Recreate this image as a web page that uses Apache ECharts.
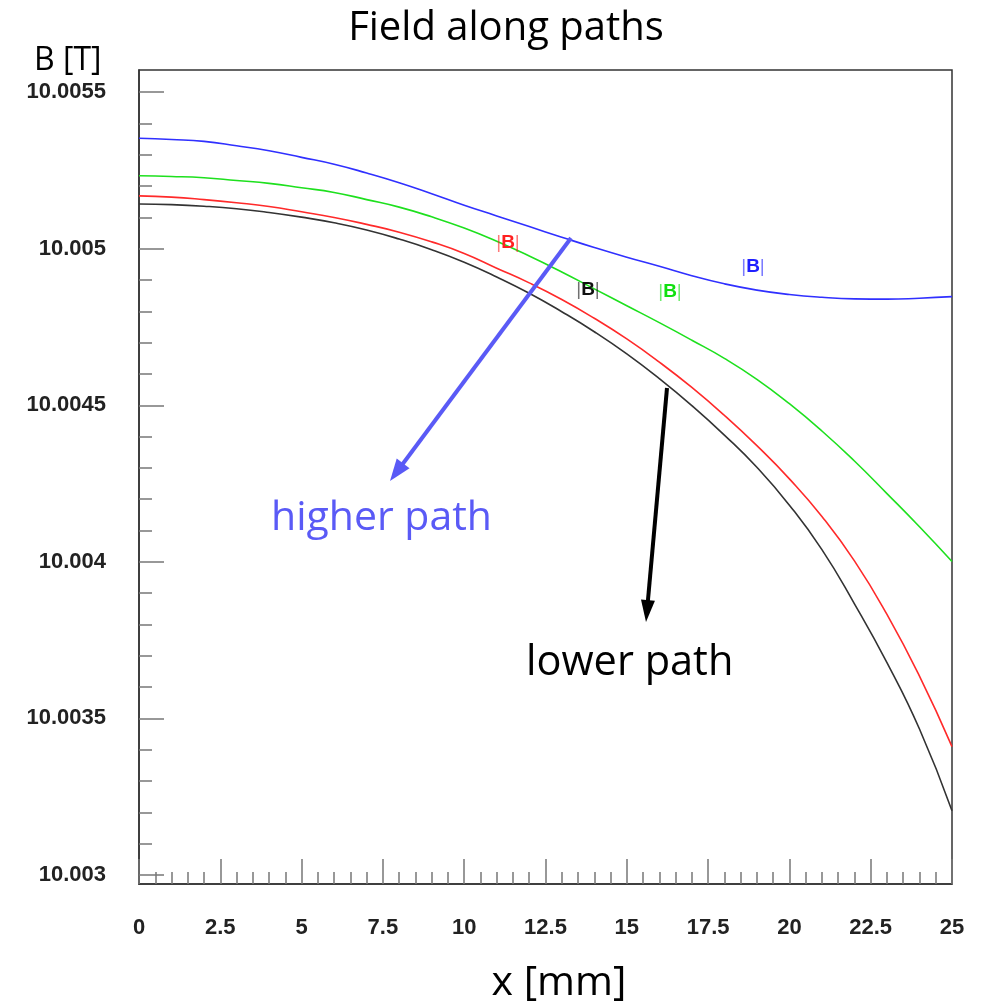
<!DOCTYPE html>
<html>
<head>
<meta charset="utf-8">
<script src="https://cdn.jsdelivr.net/npm/echarts@6/dist/echarts.min.js"></script>
<style>
html,body{margin:0;padding:0;background:#fff;}
#chart{width:981px;height:1005px;}
</style>
</head>
<body>
<div id="chart"></div>
<script>
// x positions along the path [mm]
const xPos = [0,1,2,3,4,5,6,7,8,9,10,11,12,13,14,15,16,17,18,19,20,21,22,23,24,25];
// |B| [T] along each path
const blueB  = [10.005353,10.005349,10.005343,10.005329,10.005313,10.005292,10.005270,10.005242,10.005211,10.005176,10.005139,10.005105,10.005071,10.005037,10.005004,10.004973,10.004944,10.004914,10.004888,10.004868,10.004854,10.004845,10.004840,10.004839,10.004842,10.004847];
const greenB = [10.005233,10.005231,10.005227,10.005218,10.005209,10.005195,10.005180,10.005157,10.005133,10.005102,10.005066,10.005024,10.004977,10.004926,10.004872,10.004818,10.004764,10.004708,10.004650,10.004583,10.004505,10.004418,10.004322,10.004218,10.004112,10.004001];
const redB   = [10.005169,10.005165,10.005157,10.005147,10.005135,10.005118,10.005100,10.005078,10.005053,10.005022,10.004985,10.004938,10.004891,10.004838,10.004778,10.004712,10.004638,10.004557,10.004468,10.004371,10.004265,10.004145,10.004003,10.003832,10.003635,10.003410];
const blackB = [10.005143,10.005141,10.005136,10.005128,10.005116,10.005101,10.005083,10.005060,10.005031,10.004997,10.004957,10.004910,10.004858,10.004799,10.004735,10.004664,10.004585,10.004499,10.004405,10.004302,10.004181,10.004039,10.003866,10.003678,10.003466,10.003205];
// axis ranges and tick values
const yMin = 10.002971, yMax = 10.005571;
const yMajorTicks = [10.003,10.0035,10.004,10.0045,10.005,10.0055];
const yMinorTicks = [10.0031,10.0032,10.0033,10.0034,10.0036,10.0037,10.0038,10.0039,10.0041,10.0042,10.0043,10.0044,10.0046,10.0047,10.0048,10.0049,10.0051,10.0052,10.0053,10.0054];
const xMin = 0, xMax = 25, xStep = 2.5;

const chart = echarts.init(document.getElementById('chart'), null, {renderer:'canvas'});

function pairs(vals){ return xPos.map((x,i)=>[x, vals[i]]); }
function arrow(x1,y1,x2,y2,color,w,hl,hw){
  const dx=x2-x1, dy=y2-y1, L=Math.hypot(dx,dy), ux=dx/L, uy=dy/L;
  const bx=x2-ux*hl, by=y2-uy*hl, px=-uy, py=ux;
  return [
    {type:'line', shape:{x1:x1,y1:y1,x2:bx+ux*2,y2:by+uy*2}, style:{stroke:color,lineWidth:w}, z:100},
    {type:'polygon', shape:{points:[[x2,y2],[bx+px*hw/2,by+py*hw/2],[bx-px*hw/2,by-py*hw/2]]}, style:{fill:color}, z:100}
  ];
}
const tickFont = {fontFamily:'Liberation Sans', fontWeight:'bold', fontSize:22, color:'#222'};
const lineStyleAxis = {color:'#333', width:1.5};
const tickStyle = {color:'#777', width:1.5};

function bLabel(x,y,color){
  return {type:'text', x:x, y:y, z:100, style:{
    text:'{a||}{b|B}{a||}', align:'center', verticalAlign:'middle',
    rich:{a:{fill:color,fontFamily:'Liberation Sans',fontSize:19,fontWeight:'normal',opacity:0.6},
          b:{fill:color,fontFamily:'Liberation Sans',fontSize:19,fontWeight:'bold'}}
  }};
}

const option = {
  animation:false,
  backgroundColor:'#fff',
  grid:{left:139, right:29, top:70, bottom:121, show:true, borderColor:'#333', borderWidth:1.5, containLabel:false},
  xAxis:{
    type:'value', min:xMin, max:xMax, interval:xStep,
    axisLine:{show:true, lineStyle:lineStyleAxis},
    axisTick:{show:true, inside:true, length:25, lineStyle:tickStyle},
    minorTick:{show:true, splitNumber:5, length:12, lineStyle:tickStyle},
    splitLine:{show:false}, minorSplitLine:{show:false},
    axisLabel:Object.assign({margin:33, formatter:v=>String(+v.toFixed(1))}, tickFont)
  },
  yAxis:[{
    type:'value', min:yMin, max:yMax, position:'left',
    axisLine:{show:true, lineStyle:lineStyleAxis},
    axisTick:{show:true, inside:true, length:25, customValues:yMajorTicks, lineStyle:tickStyle},
    axisLabel:Object.assign({margin:33, customValues:yMajorTicks, formatter:v=>String(+(+v).toFixed(4))}, tickFont),
    splitLine:{show:false}
  },{
    type:'value', min:yMin, max:yMax, position:'left', offset:0,
    axisLine:{show:false},
    axisTick:{show:true, inside:true, length:13, customValues:yMinorTicks, lineStyle:tickStyle},
    axisLabel:{show:false},
    splitLine:{show:false}
  }],
  series:[
    {type:'line', name:'blue', data:pairs(blueB), smooth:true, showSymbol:false, lineStyle:{color:'#3030ff', width:1.6}},
    {type:'line', name:'green', data:pairs(greenB), smooth:true, showSymbol:false, lineStyle:{color:'#1ee01e', width:1.6}},
    {type:'line', name:'red', data:pairs(redB), smooth:true, showSymbol:false, lineStyle:{color:'#ff2a2a', width:1.6}},
    {type:'line', name:'black', data:pairs(blackB), smooth:true, showSymbol:false, lineStyle:{color:'#333', width:1.6}}
  ],
  graphic:[
    {type:'text', x:506, y:29, style:{text:'Field along paths', fontFamily:'Open Sans', fontSize:40, fill:'#000', align:'center', verticalAlign:'middle'}},
    {type:'text', x:34, y:61, style:{text:'B [T]', fontFamily:'Open Sans', fontSize:32, fill:'#000', align:'left', verticalAlign:'middle'}},
    {type:'text', x:559, y:983, style:{text:'x [mm]', fontFamily:'Open Sans', fontSize:41, fill:'#000', align:'center', verticalAlign:'middle'}},
    {type:'text', x:271, y:518, style:{text:'higher path', fontFamily:'Open Sans', fontSize:41, fill:'#5a5af6', align:'left', verticalAlign:'middle'}},
    {type:'text', x:526, y:663, style:{text:'lower path', fontFamily:'Open Sans', fontSize:41.5, fill:'#000', align:'left', verticalAlign:'middle'}},
    bLabel(508,243,'#ff2020'),
    bLabel(588,290,'#111'),
    bLabel(670,292,'#10e010'),
    bLabel(753,267,'#2020ff'),
    ...arrow(571,238,390,481,'#5a5af6',4,22,16),
    ...arrow(667,388,646,622,'#000',4,22,14)
  ]
};
chart.setOption(option);
</script>
</body>
</html>
